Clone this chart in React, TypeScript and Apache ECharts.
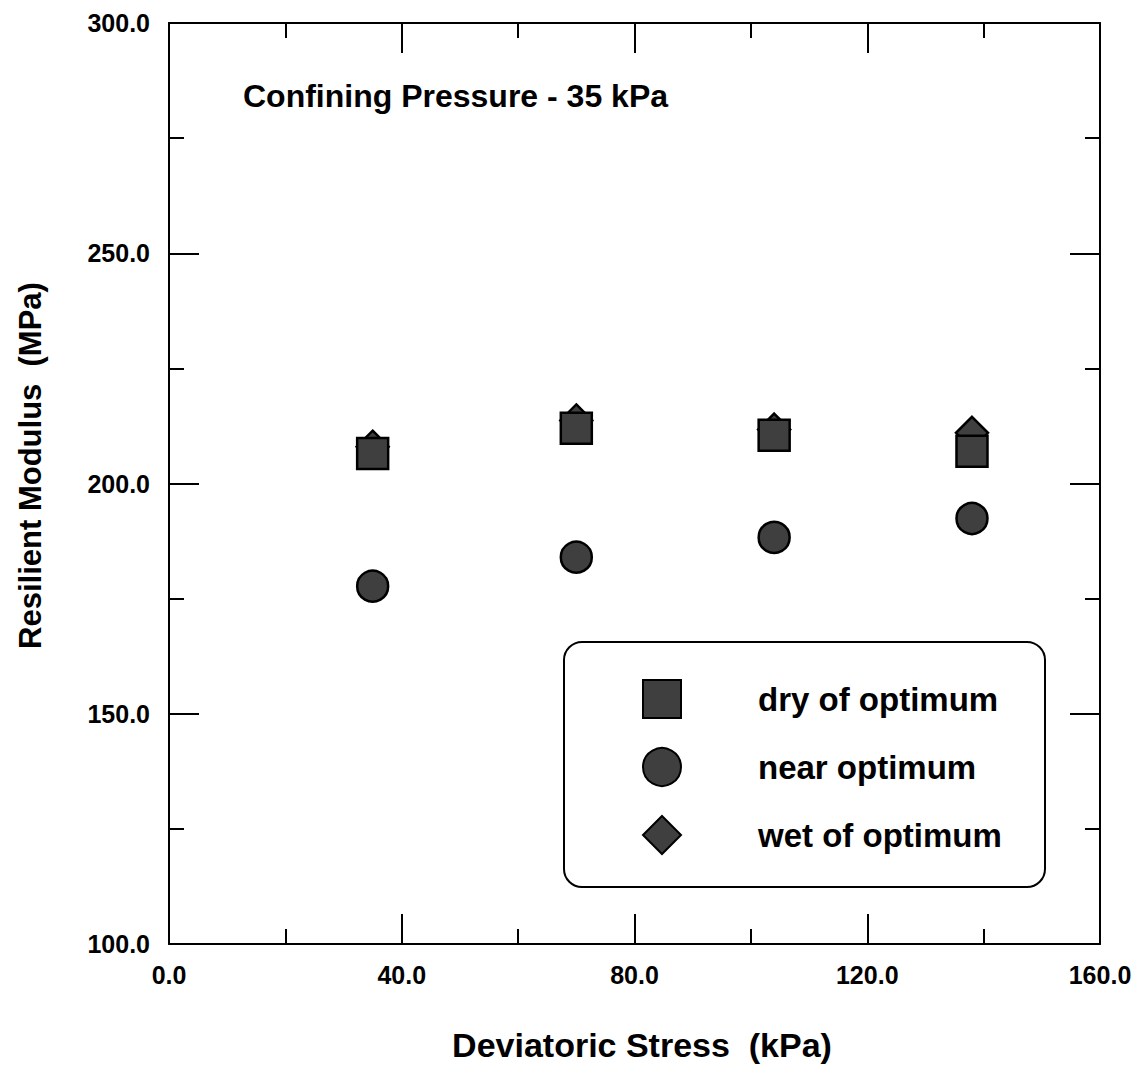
import React, { useEffect, useRef } from "react";
import * as echarts from "echarts";

const stress = [35, 70, 104, 138];
const dryOfOptimum = [206.5, 212, 210.5, 207];
const nearOptimum = [177.7, 184, 188.3, 192.4];
const wetOfOptimum = [208, 213.7, 211.7, 211];
const xTicks = { min: 0, max: 160, interval: 40 };
const yTicks = { min: 100, max: 300, interval: 50 };
const seriesNames = ["dry of optimum", "near optimum", "wet of optimum"];

const FONT = '"Liberation Sans", Arial, Helvetica, sans-serif';

export default function App() {
  const ref = useRef<HTMLDivElement>(null);
  useEffect(() => {
    if (!ref.current) return;
    const chart = echarts.init(ref.current, null, { renderer: "svg" });
    const markerStyle = { color: "#3f3f3f", borderColor: "#000", borderWidth: 2.5, opacity: 1 };
    const tickLine = { color: "#000", width: 2 };
    const baseAxis = {
      axisLine: { show: true, onZero: false, lineStyle: { color: "#000", width: 2 } },
      axisTick: { show: true, inside: true, length: 30, lineStyle: tickLine },
      minorTick: { show: true, splitNumber: 2, length: 15, lineStyle: tickLine },
      splitLine: { show: false },
      minorSplitLine: { show: false },
    };
    const mk = (v: number[]) => stress.map((x, i) => [x, v[i]]);
    chart.setOption({
      animation: false,
      backgroundColor: "#fff",
      textStyle: { fontFamily: FONT },
      grid: { left: 169, right: 37, top: 23, bottom: 124 },
      xAxis: [
        {
          type: "value",
          position: "bottom",
          ...xTicks,
          ...baseAxis,
          axisLabel: {
            show: true,
            margin: 18,
            fontFamily: FONT,
            fontWeight: "bold",
            fontSize: 25,
            color: "#000",
            formatter: (v: number) => v.toFixed(1),
          },
          name: "Deviatoric Stress  (kPa)",
          nameLocation: "middle",
          nameGap: 101,
          nameTextStyle: {
            fontFamily: FONT,
            fontWeight: "bold",
            fontSize: 34,
            color: "#000",
            verticalAlign: "middle",
            padding: [0, 0, 0, 15],
          },
        },
        {
          type: "value",
          position: "top",
          ...xTicks,
          ...baseAxis,
          axisLabel: { show: false },
        },
      ],
      yAxis: [
        {
          type: "value",
          position: "left",
          ...yTicks,
          ...baseAxis,
          axisLabel: {
            show: true,
            margin: 19,
            fontFamily: FONT,
            fontWeight: "bold",
            fontSize: 25,
            color: "#000",
            formatter: (v: number) => v.toFixed(1),
          },
          name: "Resilient Modulus  (MPa)",
          nameLocation: "middle",
          nameGap: 139,
          nameTextStyle: {
            fontFamily: FONT,
            fontWeight: "bold",
            fontSize: 31,
            color: "#000",
            verticalAlign: "middle",
            padding: [0, 0, 0, 36],
          },
        },
        {
          type: "value",
          position: "right",
          ...yTicks,
          ...baseAxis,
          axisLabel: { show: false },
        },
      ],
      legend: {
        show: true,
        orient: "vertical",
        left: 642,
        top: 679,
        padding: 0,
        itemWidth: 38,
        itemHeight: 38,
        itemGap: 28,
        selectedMode: false,
        data: seriesNames,
        textStyle: {
          fontFamily: FONT,
          fontWeight: "bold",
          fontSize: 33,
          color: "#000",
          padding: [0, 0, 0, 72],
        },
      },
      graphic: [
        {
          type: "rect",
          shape: { x: 564, y: 642, width: 481, height: 245, r: 18 },
          style: { fill: "none", stroke: "#000", lineWidth: 2 },
          z: 1,
        },
        {
          type: "text",
          x: 243,
          y: 96,
          style: {
            text: "Confining Pressure - 35 kPa",
            fontFamily: FONT,
            fontWeight: "bold",
            fontSize: 32,
            fill: "#000",
            textAlign: "left",
            textVerticalAlign: "middle",
            verticalAlign: "middle",
          },
        },
      ],
      series: [
        {
          name: seriesNames[2],
          type: "scatter",
          symbol: "diamond",
          symbolSize: 32,
          data: mk(wetOfOptimum),
          itemStyle: markerStyle,
          z: 2,
        },
        {
          name: seriesNames[0],
          type: "scatter",
          symbol: "rect",
          symbolSize: 31,
          data: mk(dryOfOptimum),
          itemStyle: markerStyle,
          z: 3,
        },
        {
          name: seriesNames[1],
          type: "scatter",
          symbol: "circle",
          symbolSize: 31,
          data: mk(nearOptimum),
          itemStyle: markerStyle,
          z: 3,
        },
      ],
    });
    return () => chart.dispose();
  }, []);
  return (
    <div
      ref={ref}
      style={{ position: "absolute", left: 0, top: 0, width: 1137, height: 1068 }}
    />
  );
}
